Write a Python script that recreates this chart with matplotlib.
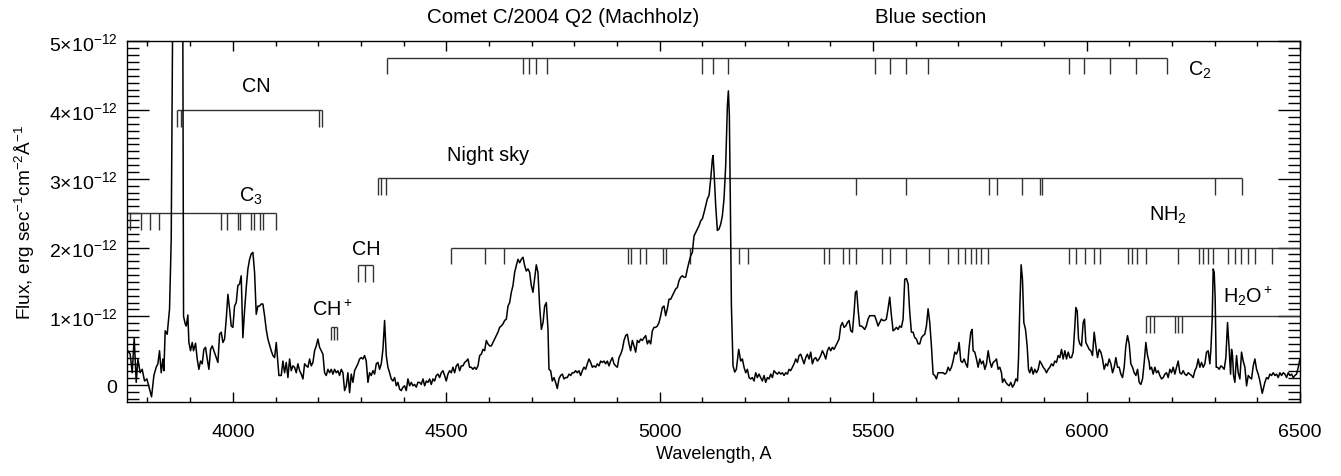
import matplotlib
matplotlib.use('Agg')
import matplotlib.pyplot as plt
from matplotlib.ticker import MultipleLocator, FuncFormatter
import matplotlib.transforms as mtransforms

plt.rcParams['font.family'] = ['Liberation Sans', 'DejaVu Sans']
plt.rcParams['mathtext.fontset'] = 'custom'
plt.rcParams['mathtext.rm'] = 'Liberation Sans'
plt.rcParams['mathtext.it'] = 'Liberation Sans'

# spectrum: wavelength (A) and flux (units of 1e-12 erg s^-1 cm^-2 A^-1)
wl = [3750.1, 3754.0, 3759.5, 3764.2, 3768.9, 3773.6, 3777.5, 3782.9, 3787.6, 3793.1,
      3798.6, 3804.8, 3809.5, 3815.0, 3820.4, 3824.3, 3828.2, 3832.2, 3836.1, 3838.4,
      3841.5, 3846.2, 3851.7, 3855.6, 3866.0, 3880.0, 3884.5, 3888.4, 3890.9, 3894.6,
      3897.0, 3900.9, 3904.8, 3907.9, 3912.6, 3916.5, 3920.4, 3924.3, 3928.2, 3932.1,
      3936.0, 3940.0, 3943.9, 3947.8, 3951.7, 3955.6, 3959.5, 3965.0, 3968.9, 3972.8,
      3976.7, 3980.6, 3984.5, 3988.4, 3992.3, 3996.2, 4000.1, 4004.0, 4007.9, 4011.8,
      4015.7, 4019.6, 4023.5, 4027.4, 4031.4, 4035.3, 4039.2, 4043.1, 4047.0, 4050.9,
      4054.8, 4058.7, 4062.6, 4066.5, 4070.4, 4074.3, 4078.2, 4082.1, 4089.9, 4093.9,
      4097.8, 4101.7, 4107.9, 4113.4, 4117.3, 4121.2, 4125.1, 4129.0, 4132.9, 4136.8,
      4140.7, 4144.6, 4148.5, 4152.4, 4156.4, 4160.3, 4164.2, 4168.1, 4172.0, 4175.9,
      4179.8, 4183.7, 4187.6, 4191.5, 4195.4, 4199.3, 4203.2, 4207.1, 4211.0, 4214.9,
      4218.8, 4222.7, 4226.6, 4230.5, 4234.4, 4238.3, 4242.2, 4246.1, 4250.0, 4254.0,
      4257.9, 4261.8, 4265.7, 4269.6, 4273.5, 4277.4, 4281.3, 4285.2, 4289.1, 4293.0,
      4296.9, 4300.8, 4304.7, 4308.6, 4312.5, 4316.5, 4320.4, 4324.3, 4328.2, 4332.1,
      4336.0, 4339.9, 4343.8, 4347.7, 4351.6, 4355.5, 4359.4, 4363.3, 4367.2, 4371.1,
      4375.0, 4379.0, 4382.9, 4386.8, 4390.7, 4394.6, 4398.5, 4402.4, 4406.3, 4410.2,
      4414.1, 4418.0, 4421.9, 4425.8, 4429.7, 4433.6, 4437.5, 4441.4, 4445.4, 4449.3,
      4453.2, 4457.1, 4461.0, 4464.9, 4468.8, 4472.7, 4476.6, 4480.5, 4484.4, 4488.3,
      4492.2, 4496.1, 4500.0, 4503.9, 4507.9, 4511.8, 4515.7, 4519.6, 4523.5, 4527.4,
      4531.3, 4535.2, 4539.1, 4543.0, 4546.9, 4550.8, 4554.7, 4558.6, 4562.5, 4566.4,
      4570.3, 4574.3, 4578.2, 4582.1, 4586.0, 4589.9, 4593.8, 4597.7, 4601.6, 4605.5,
      4609.4, 4613.3, 4617.2, 4621.1, 4625.0, 4628.9, 4632.8, 4636.7, 4640.7, 4644.6,
      4648.5, 4652.4, 4656.3, 4660.2, 4664.1, 4668.0, 4671.9, 4675.8, 4679.7, 4683.6,
      4687.5, 4691.4, 4695.3, 4699.2, 4703.1, 4710.9, 4714.8, 4718.7, 4722.8, 4726.7,
      4730.5, 4734.4, 4738.3, 4740.6, 4744.5, 4748.4, 4752.3, 4756.2, 4760.1, 4764.0,
      4767.9, 4771.9, 4775.8, 4779.7, 4783.6, 4787.5, 4791.4, 4795.3, 4799.2, 4803.1,
      4807.0, 4810.9, 4814.8, 4818.7, 4822.6, 4826.5, 4830.4, 4834.4, 4838.3, 4842.2,
      4846.1, 4850.0, 4853.9, 4857.8, 4861.7, 4865.6, 4869.5, 4873.4, 4877.3, 4881.2,
      4885.1, 4889.0, 4892.9, 4896.9, 4900.8, 4904.7, 4908.6, 4912.5, 4916.4, 4920.3,
      4924.2, 4928.1, 4932.0, 4935.9, 4939.8, 4943.7, 4947.6, 4951.5, 4955.4, 4959.3,
      4963.3, 4967.2, 4971.1, 4975.0, 4978.9, 4982.8, 4986.7, 4990.6, 4994.5, 4998.4,
      5002.3, 5006.2, 5010.1, 5014.0, 5017.9, 5021.8, 5025.8, 5029.7, 5033.6, 5037.5,
      5041.4, 5045.3, 5049.2, 5053.1, 5057.0, 5060.9, 5064.8, 5068.7, 5072.6, 5076.5,
      5080.4, 5084.3, 5088.2, 5092.2, 5096.1, 5100.0, 5103.9, 5107.8, 5111.7, 5115.6,
      5119.5, 5123.4, 5125.0, 5127.3, 5131.2, 5135.1, 5139.0, 5142.9, 5146.8, 5150.7,
      5154.6, 5158.6, 5160.9, 5163.2, 5165.6, 5168.0, 5171.8, 5175.7, 5179.6, 5185.1,
      5189.8, 5193.7, 5197.6, 5201.5, 5205.4, 5209.3, 5213.2, 5217.1, 5221.0, 5224.9,
      5228.8, 5232.7, 5236.6, 5240.5, 5244.5, 5248.3, 5252.3, 5256.2, 5260.1, 5264.0,
      5267.9, 5271.8, 5275.7, 5279.6, 5283.5, 5287.4, 5291.3, 5295.2, 5299.1, 5303.0,
      5306.9, 5310.9, 5314.8, 5318.7, 5322.6, 5326.5, 5330.4, 5334.3, 5338.2, 5342.1,
      5346.0, 5349.9, 5353.8, 5357.7, 5361.6, 5365.5, 5369.4, 5373.3, 5377.3, 5381.2,
      5385.1, 5389.0, 5392.9, 5396.8, 5400.7, 5404.6, 5408.5, 5412.4, 5416.3, 5420.2,
      5424.1, 5428.0, 5431.9, 5435.8, 5439.8, 5443.7, 5447.6, 5451.5, 5455.4, 5458.5,
      5461.6, 5464.7, 5468.5, 5472.4, 5476.3, 5480.2, 5484.1, 5488.1, 5492.0, 5495.9,
      5499.8, 5503.7, 5507.6, 5511.5, 5515.4, 5519.3, 5523.2, 5527.1, 5531.0, 5535.0,
      5538.9, 5542.9, 5546.8, 5550.7, 5554.6, 5558.5, 5562.4, 5566.3, 5570.2, 5574.1,
      5578.0, 5582.0, 5585.8, 5589.7, 5593.6, 5597.6, 5601.5, 5605.4, 5609.3, 5613.2,
      5617.1, 5621.0, 5624.9, 5628.8, 5632.7, 5636.6, 5640.5, 5644.4, 5648.3, 5652.2,
      5656.2, 5664.0, 5667.9, 5671.8, 5675.7, 5679.6, 5683.5, 5687.4, 5691.4, 5695.3,
      5699.2, 5701.5, 5705.4, 5709.3, 5713.2, 5717.1, 5721.0, 5724.9, 5728.9, 5732.0,
      5734.3, 5738.2, 5742.1, 5746.0, 5749.9, 5753.9, 5757.8, 5761.7, 5765.6, 5769.5,
      5773.4, 5777.3, 5781.2, 5785.1, 5789.0, 5792.9, 5796.8, 5800.7, 5803.1, 5807.0,
      5810.9, 5814.8, 5818.7, 5822.6, 5826.5, 5830.4, 5834.3, 5838.2, 5840.6, 5843.7,
      5846.8, 5849.9, 5853.1, 5857.0, 5860.9, 5864.0, 5867.1, 5871.0, 5874.9, 5878.8,
      5882.7, 5886.7, 5890.6, 5894.5, 5898.4, 5902.3, 5906.2, 5910.1, 5914.0, 5917.9,
      5921.8, 5925.7, 5929.6, 5933.5, 5937.4, 5941.4, 5945.2, 5949.2, 5953.1, 5957.0,
      5960.9, 5964.8, 5968.7, 5972.6, 5974.9, 5978.1, 5981.2, 5984.3, 5988.2, 5992.1,
      5995.2, 5998.4, 6002.3, 6006.2, 6010.1, 6014.0, 6017.9, 6021.8, 6025.7, 6029.6,
      6033.5, 6037.4, 6041.3, 6045.2, 6049.1, 6053.1, 6057.0, 6060.9, 6064.8, 6068.7,
      6072.6, 6076.5, 6080.4, 6084.3, 6088.2, 6092.1, 6096.0, 6099.9, 6103.8, 6107.7,
      6111.6, 6115.6, 6119.5, 6123.4, 6127.3, 6131.2, 6135.1, 6139.0, 6142.9, 6146.8,
      6148.3, 6152.2, 6156.1, 6160.0, 6163.9, 6167.8, 6171.7, 6175.7, 6179.6, 6183.5,
      6187.4, 6191.3, 6195.2, 6199.1, 6203.0, 6206.9, 6210.8, 6214.7, 6218.6, 6222.5,
      6226.4, 6230.3, 6234.2, 6238.1, 6242.1, 6246.0, 6249.9, 6253.8, 6257.7, 6261.6,
      6265.5, 6269.4, 6273.3, 6277.2, 6281.1, 6285.0, 6288.9, 6291.3, 6294.4, 6296.7,
      6299.1, 6301.4, 6303.8, 6306.9, 6310.8, 6314.7, 6318.6, 6322.5, 6326.4, 6330.3,
      6334.2, 6337.4, 6339.7, 6342.0, 6344.4, 6347.5, 6351.4, 6355.3, 6359.2, 6363.1,
      6367.0, 6371.0, 6374.9, 6378.8, 6382.7, 6386.6, 6390.5, 6394.4, 6398.3, 6402.2,
      6406.1, 6411.6, 6417.8, 6421.7, 6425.6, 6429.5, 6433.4, 6437.4, 6441.3, 6445.2,
      6449.1, 6453.0, 6456.9, 6460.8, 6464.7, 6468.6, 6472.5, 6476.4, 6480.3, 6484.2,
      6488.1, 6492.0, 6496.0, 6499.9]
flux = [0.38, 0.50, 0.45, 0.18, 0.69, 0.04, 0.38, 0.18, 0.23, 0.06,
        0.09, -0.06, -0.17, 0.14, 0.26, 0.31, 0.50, 0.18, 0.38, 0.21,
        0.79, 0.74, 1.11, 2.12, 12.0, 12.0, 1.00, 0.89, 0.86, 1.02,
        0.62, 0.50, 0.62, 0.50, 0.61, 0.38, 0.23, 0.35, 0.31, 0.52,
        0.55, 0.38, 0.23, 0.52, 0.57, 0.50, 0.43, 0.33, 0.74, 0.77,
        0.62, 0.67, 0.96, 1.32, 1.11, 0.86, 0.84, 1.15, 1.20, 1.45,
        1.47, 1.59, 0.69, 1.08, 1.42, 1.69, 1.83, 1.91, 1.93, 1.64,
        1.03, 1.15, 1.15, 1.18, 1.18, 1.01, 0.81, 0.67, 0.50, 0.43,
        0.40, 0.62, 0.14, 0.14, 0.35, 0.18, 0.33, 0.11, 0.38, 0.21,
        0.28, 0.26, 0.18, 0.31, 0.21, 0.16, 0.09, 0.31, 0.28, 0.26,
        0.38, 0.28, 0.33, 0.50, 0.57, 0.67, 0.55, 0.50, 0.45, 0.18,
        0.14, 0.23, 0.18, 0.23, 0.16, 0.23, 0.18, 0.21, 0.14, 0.23,
        0.18, -0.08, -0.01, 0.18, -0.11, 0.16, 0.04, 0.21, 0.26, 0.31,
        0.38, 0.40, 0.38, 0.43, 0.35, 0.04, 0.18, 0.14, 0.21, 0.16,
        0.31, 0.33, 0.23, 0.31, 0.52, 0.94, 0.43, 0.26, 0.18, 0.09,
        0.06, 0.11, -0.01, 0.04, -0.06, -0.08, -0.03, -0.01, -0.08, 0.09,
        -0.01, 0.04, -0.01, 0.01, -0.03, 0.04, 0.04, 0.01, 0.09, -0.01,
        0.06, 0.04, 0.09, 0.01, 0.09, 0.06, 0.14, 0.16, 0.11, 0.18,
        0.21, 0.14, 0.06, 0.16, 0.21, 0.18, 0.26, 0.18, 0.28, 0.31,
        0.21, 0.28, 0.28, 0.33, 0.35, 0.38, 0.26, 0.26, 0.23, 0.26,
        0.23, 0.28, 0.43, 0.45, 0.52, 0.50, 0.65, 0.60, 0.57, 0.57,
        0.62, 0.67, 0.72, 0.77, 0.84, 0.86, 0.89, 0.94, 0.96, 1.15,
        1.20, 1.35, 1.45, 1.64, 1.74, 1.83, 1.78, 1.83, 1.86, 1.74,
        1.66, 1.69, 1.64, 1.45, 1.35, 1.75, 1.64, 1.15, 0.81, 0.91,
        1.15, 1.20, 0.81, 0.23, 0.21, 0.06, 0.11, 0.04, -0.05, 0.09,
        0.14, 0.16, 0.09, 0.11, 0.11, 0.16, 0.14, 0.18, 0.18, 0.21,
        0.18, 0.21, 0.14, 0.21, 0.26, 0.23, 0.31, 0.38, 0.33, 0.26,
        0.28, 0.26, 0.31, 0.28, 0.35, 0.33, 0.35, 0.31, 0.35, 0.28,
        0.35, 0.40, 0.31, 0.28, 0.26, 0.40, 0.45, 0.52, 0.65, 0.72,
        0.74, 0.60, 0.50, 0.65, 0.57, 0.48, 0.65, 0.62, 0.67, 0.65,
        0.69, 0.72, 0.60, 0.65, 0.60, 0.79, 0.84, 0.84, 0.86, 0.91,
        1.01, 1.13, 1.15, 1.01, 1.11, 1.25, 1.25, 1.30, 1.35, 1.40,
        1.42, 1.52, 1.57, 1.59, 1.57, 1.57, 1.69, 1.79, 1.88, 1.93,
        2.17, 2.22, 2.27, 2.32, 2.39, 2.42, 2.51, 2.61, 2.71, 2.76,
        3.00, 3.29, 3.34, 3.10, 2.61, 2.25, 2.27, 2.34, 2.46, 2.71,
        3.19, 4.07, 4.28, 3.92, 2.61, 1.15, 0.28, 0.19, 0.23, 0.52,
        0.35, 0.38, 0.26, 0.18, 0.23, 0.11, 0.09, 0.11, 0.06, 0.18,
        0.11, 0.16, 0.11, 0.06, 0.14, 0.04, 0.11, 0.09, 0.16, 0.11,
        0.21, 0.18, 0.16, 0.19, 0.16, 0.18, 0.14, 0.18, 0.16, 0.23,
        0.21, 0.26, 0.31, 0.38, 0.33, 0.43, 0.45, 0.38, 0.31, 0.40,
        0.45, 0.38, 0.48, 0.31, 0.38, 0.40, 0.35, 0.38, 0.43, 0.50,
        0.45, 0.38, 0.50, 0.55, 0.50, 0.55, 0.52, 0.57, 0.62, 0.67,
        0.86, 0.91, 0.84, 0.86, 0.91, 0.94, 0.79, 0.77, 1.06, 1.35,
        1.37, 1.11, 0.86, 0.86, 0.84, 0.81, 0.86, 0.96, 1.01, 1.01,
        1.01, 1.01, 0.94, 0.86, 0.91, 0.96, 0.94, 0.94, 0.96, 1.11,
        1.28, 1.01, 0.79, 0.81, 0.84, 0.81, 0.86, 0.84, 0.96, 1.54,
        1.55, 1.47, 1.06, 0.77, 0.77, 0.69, 0.67, 0.60, 0.60, 0.69,
        0.72, 0.74, 0.86, 1.11, 0.91, 0.57, 0.16, 0.14, 0.09, 0.18,
        0.18, 0.18, 0.16, 0.18, 0.26, 0.21, 0.26, 0.35, 0.48, 0.45,
        0.52, 0.62, 0.35, 0.33, 0.38, 0.31, 0.26, 0.55, 0.77, 0.81,
        0.50, 0.48, 0.38, 0.26, 0.38, 0.31, 0.35, 0.23, 0.31, 0.50,
        0.35, 0.26, 0.33, 0.35, 0.38, 0.23, 0.26, 0.18, 0.04, 0.09,
        0.04, 0.01, -0.01, 0.04, -0.03, 0.01, 0.09, 0.06, 0.38, 1.15,
        1.75, 1.54, 0.91, 0.81, 0.57, 0.23, 0.18, 0.26, 0.16, 0.23,
        0.18, 0.23, 0.35, 0.31, 0.26, 0.23, 0.18, 0.23, 0.26, 0.31,
        0.28, 0.35, 0.33, 0.43, 0.40, 0.52, 0.38, 0.50, 0.38, 0.48,
        0.40, 0.40, 0.48, 0.86, 1.13, 1.08, 0.67, 0.60, 0.57, 0.91,
        0.96, 0.62, 0.57, 0.52, 0.50, 0.43, 0.77, 0.57, 0.40, 0.52,
        0.48, 0.38, 0.23, 0.31, 0.28, 0.38, 0.31, 0.18, 0.26, 0.40,
        0.26, 0.26, 0.16, 0.11, 0.26, 0.57, 0.72, 0.60, 0.31, 0.26,
        0.18, 0.14, 0.23, 0.04, 0.01, 0.09, 0.33, 0.62, 0.43, 0.33,
        0.23, 0.26, 0.16, 0.26, 0.18, 0.21, 0.14, 0.09, 0.11, 0.16,
        0.18, 0.11, 0.23, 0.18, 0.26, 0.16, 0.26, 0.35, 0.18, 0.16,
        0.21, 0.16, 0.14, 0.18, 0.16, 0.14, 0.11, 0.21, 0.26, 0.38,
        0.26, 0.33, 0.26, 0.31, 0.48, 0.50, 0.31, 0.52, 0.96, 1.69,
        1.64, 1.25, 0.26, 0.26, 0.23, 0.28, 0.26, 0.23, 0.40, 0.91,
        0.52, 0.16, 0.52, 0.43, 0.14, 0.04, 0.43, 0.18, 0.09, 0.48,
        0.35, 0.26, -0.01, 0.14, 0.11, 0.09, 0.28, 0.38, 0.23, 0.16,
        0.06, -0.12, 0.04, 0.11, 0.09, 0.16, 0.14, 0.18, 0.14, 0.16,
        0.11, 0.18, 0.14, 0.18, 0.16, 0.11, 0.18, 0.14, 0.16, 0.11,
        0.14, 0.16, 0.26, 0.38]

# band identifications: tick wavelengths, bar level (1e-12 units)
c2_lines = [4360, 4680, 4694, 4710, 4735, 5098, 5125, 5160, 5505, 5539, 5578, 5629,
            5959, 5995, 6056, 6117, 6189]
c2_level = 4.76
cn_lines = [3869, 3878, 4202, 4210]
cn_level = 4.0
c3_lines = [3760, 3785, 3805, 3828, 3973, 3986, 4012, 4016, 4043, 4049, 4064, 4070, 4100]
c3_level = 2.5
sky_lines = [4340, 4346, 4359, 5461, 5578, 5771, 5791, 5848, 5891, 5896, 6300, 6365]
sky_level = 3.01
nh2_lines = [4512, 4590, 4636, 4925, 4933, 4955, 4968, 5008, 5014, 5070, 5186, 5207,
             5385, 5397, 5429, 5444, 5461, 5521, 5539, 5577, 5631, 5676, 5700, 5715,
             5730, 5742, 5753, 5769, 5959, 5976, 5996, 6017, 6032, 6096, 6106, 6118,
             6139, 6214, 6264, 6273, 6284, 6296, 6332, 6347, 6363, 6379, 6395, 6434]
nh2_level = 2.0
h2o_lines = [6139, 6148, 6158, 6207, 6215, 6223]
h2o_level = 1.0
ch_lines = [4293, 4310, 4328]
ch_level = 1.74
chp_lines = [4229, 4236, 4245]
chp_level = 0.84

XMIN, XMAX = 3752, 6500
YMIN, YMAX = -0.25, 5.01
TICK = 0.24

fig = plt.figure(figsize=(13.41, 4.77), dpi=100)
ax = fig.add_axes([0.0947, 0.1545, 0.8747, 0.7581])

ax.plot(wl, flux, color='black', lw=1.1, zorder=3)

lc = '#333333'


def band(lines, level, x_end=None, tick=TICK):
    x0 = min(lines)
    x1 = x_end if x_end is not None else max(lines)
    ax.hlines(level, x0, x1, color=lc, lw=1.0)
    ax.vlines(lines, level - tick, level, color=lc, lw=1.0)


band(c2_lines, c2_level)
band(cn_lines, cn_level)
band(c3_lines, c3_level)
ax.hlines(c3_level, XMIN, min(c3_lines), color=lc, lw=1.0)
band(sky_lines, sky_level)
band(nh2_lines, nh2_level, x_end=XMAX)
band(h2o_lines, h2o_level, x_end=XMAX)
band(ch_lines, ch_level)
band(chp_lines, chp_level, tick=0.19)

fs = 14.3
ax.text(6265, 4.60, r'C$_2$', ha='center', va='center', fontsize=fs)
ax.text(4055, 4.36, 'CN', ha='center', va='center', fontsize=fs)
ax.text(4043, 2.76, r'C$_3$', ha='center', va='center', fontsize=fs)
ax.text(4598, 3.36, 'Night sky', ha='center', va='center', fontsize=fs)
ax.text(6191, 2.49, r'NH$_2$', ha='center', va='center', fontsize=fs)
ax.text(6379, 1.30, r'H$_2$O$^+$', ha='center', va='center', fontsize=fs)
ax.text(4312, 1.99, 'CH', ha='center', va='center', fontsize=fs)
ax.text(4234, 1.11, r'CH$^+$', ha='center', va='center', fontsize=fs)

trans = mtransforms.blended_transform_factory(ax.transData, ax.transAxes)
ax.text(4774, 1.066, 'Comet C/2004 Q2 (Machholz)', transform=trans,
        ha='center', va='center', fontsize=14.8)
ax.text(5635, 1.066, 'Blue section', transform=trans,
        ha='center', va='center', fontsize=14.8)

ax.set_xlim(XMIN, XMAX)
ax.set_ylim(YMIN, YMAX)
ax.xaxis.set_major_locator(MultipleLocator(500))
ax.xaxis.set_minor_locator(MultipleLocator(100))
ax.yaxis.set_major_locator(MultipleLocator(1))
ax.yaxis.set_minor_locator(MultipleLocator(0.1))


def yfmt(v, pos):
    if abs(v) < 1e-9:
        return '0'
    return r'%d$\times$10$^{-12}$' % round(v)


ax.yaxis.set_major_formatter(FuncFormatter(yfmt))
ax.tick_params(axis='both', which='both', direction='in', top=True, right=True,
               labelsize=14, width=1.0)
ax.tick_params(axis='x', which='major', length=7, pad=15)
ax.tick_params(axis='x', which='minor', length=3.5)
ax.tick_params(axis='y', which='major', length=16, pad=7)
ax.tick_params(axis='y', which='minor', length=8.5)
for s in ax.spines.values():
    s.set_linewidth(1.0)

ax.set_xlabel('Wavelength, A', fontsize=13)
ax.xaxis.set_label_coords(0.5, -0.118)
ax.set_ylabel(r'Flux, erg sec$^{-1}$cm$^{-2}$$\mathrm{\AA}^{-1}$', fontsize=13.7)
ax.yaxis.set_label_coords(-0.077, 0.5)

fig.savefig('out.png', dpi=100)
